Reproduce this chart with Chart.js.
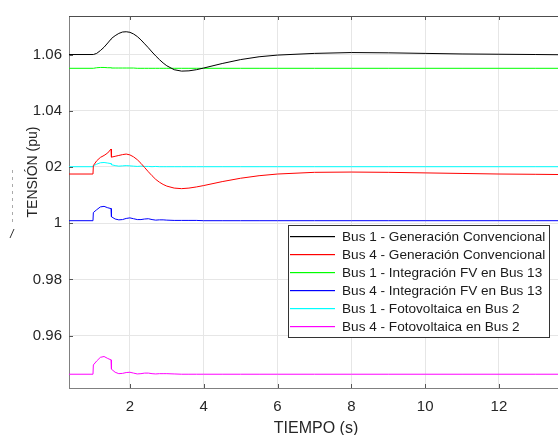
<!DOCTYPE html>
<html>
<head>
<meta charset="utf-8">
<script src="https://cdn.jsdelivr.net/npm/chart.js@4/dist/chart.umd.min.js"></script>
<style>
  html, body { margin: 0; padding: 0; background: #fff; }
  #wrap { width: 558px; height: 435px; }
</style>
</head>
<body>
<div id="wrap"><canvas id="tension" width="558" height="435"></canvas></div>
<script>
// tiempo de simulación (s)
const tiempo = [0.35, 1.0, 1.01, 1.1, 1.2, 1.3, 1.4, 1.49, 1.5, 1.6, 1.7, 1.8, 1.9, 2.0, 2.1, 2.2, 2.3, 2.4, 2.5, 2.6,
    2.7, 2.8, 2.9, 3.0, 3.2, 3.4, 3.6, 3.8, 4.0, 4.5, 5.0, 5.5, 6.0, 7.0, 8.0, 9.0, 10.0, 11.0, 12.0, 13.0, 13.8];

const bus1Conv = [1.0600, 1.0600, 1.0600, 1.0604, 1.0614, 1.0626, 1.0641, 1.0655, 1.0657, 1.0667, 1.0675, 1.0680, 1.0681,
    1.0679, 1.0673, 1.0664, 1.0652, 1.0638, 1.0624, 1.0609, 1.0595, 1.0582, 1.0570, 1.0560, 1.0546, 1.0541, 1.0542,
    1.0546, 1.0552, 1.0568, 1.0582, 1.0592, 1.0598, 1.0604, 1.0607, 1.0606, 1.0604, 1.0602, 1.0601, 1.0600, 1.0599];

const bus4Conv = [1.0175, 1.0175, 1.0205, 1.0222, 1.0234, 1.0241, 1.0250, 1.0264, 1.0235, 1.0238, 1.0241, 1.0244, 1.0246,
    1.0243, 1.0236, 1.0226, 1.0213, 1.0198, 1.0183, 1.0169, 1.0156, 1.0146, 1.0138, 1.0132, 1.0125, 1.0123, 1.0125,
    1.0129, 1.0134, 1.0148, 1.0160, 1.0169, 1.0175, 1.0181, 1.0182, 1.0181, 1.0179, 1.0177, 1.0175, 1.0174, 1.0173];

const bus1Fv13 = [1.0551, 1.0551, 1.0551, 1.0553, 1.0554, 1.0554, 1.0553, 1.0553, 1.0552, 1.0552, 1.0552, 1.0552, 1.0552,
    1.0552, 1.0552, 1.0551, 1.0551, 1.0551, 1.0551, 1.0551, 1.0551, 1.0551, 1.0551, 1.0551, 1.0551, 1.0551, 1.0551,
    1.0551, 1.0551, 1.0551, 1.0551, 1.0551, 1.0551, 1.0551, 1.0551, 1.0551, 1.0551, 1.0551, 1.0551, 1.0551, 1.0551];

const bus4Fv13 = [1.0009, 1.0009, 1.0038, 1.0048, 1.0058, 1.0060, 1.0055, 1.0052, 1.0023, 1.0015, 1.0012, 1.0013, 1.0017,
    1.0019, 1.0016, 1.0013, 1.0013, 1.0015, 1.0016, 1.0013, 1.0011, 1.0012, 1.0012, 1.0011, 1.0010, 1.0010, 1.0010,
    1.0010, 1.0009, 1.0009, 1.0009, 1.0009, 1.0009, 1.0009, 1.0009, 1.0009, 1.0009, 1.0009, 1.0009, 1.0009, 1.0009];

const bus1Fv2 = [1.0201, 1.0201, 1.0204, 1.0210, 1.0215, 1.0216, 1.0214, 1.0212, 1.0208, 1.0205, 1.0203, 1.0204, 1.0205,
    1.0204, 1.0203, 1.0202, 1.0203, 1.0202, 1.0202, 1.0201, 1.0202, 1.0201, 1.0201, 1.0201, 1.0201, 1.0201, 1.0201,
    1.0201, 1.0201, 1.0201, 1.0201, 1.0201, 1.0201, 1.0201, 1.0201, 1.0201, 1.0201, 1.0201, 1.0201, 1.0201, 1.0201];

const bus4Fv2 = [0.9463, 0.9463, 0.9496, 0.9510, 0.9523, 0.9526, 0.9519, 0.9514, 0.9481, 0.9470, 0.9465, 0.9466, 0.9469,
    0.9470, 0.9467, 0.9464, 0.9465, 0.9467, 0.9467, 0.9465, 0.9464, 0.9465, 0.9465, 0.9465, 0.9464, 0.9463, 0.9463,
    0.9463, 0.9463, 0.9463, 0.9463, 0.9463, 0.9463, 0.9463, 0.9463, 0.9463, 0.9463, 0.9463, 0.9463, 0.9463, 0.9463];

const etiquetas = [
    "Bus 1 - Generación Convencional",
    "Bus 4 - Generación Convencional",
    "Bus 1 - Integración FV en Bus 13",
    "Bus 4 - Integración FV en Bus 13",
    "Bus 1 - Fotovoltaica en Bus 2",
    "Bus 4 - Fotovoltaica en Bus 2"
];
const series = [bus1Conv, bus4Conv, bus1Fv13, bus4Fv13, bus1Fv2, bus4Fv2];
const colores = ["#000000", "#ff0000", "#00ff00", "#0000ff", "#00ffff", "#ff00ff"];

const ticksX = [2, 4, 6, 8, 10, 12];
const ticksY = [0.96, 0.98, 1.00, 1.02, 1.04, 1.06];

const FONT = "'Liberation Sans', Arial, sans-serif";

const datasets = series.map((vals, i) => ({
    label: etiquetas[i],
    data: vals.map((v, k) => ({ x: tiempo[k], y: v })),
    borderColor: colores[i],
    borderWidth: 1,
    pointRadius: 0,
    tension: 0,
    fill: false
}));

// bordes, marcas interiores, títulos y leyenda estilo matlab
const extras = {
    id: "extras",
    afterDatasetsDraw(chart) {
        const ctx = chart.ctx;
        const a = chart.chartArea;
        const sx = chart.scales.x;
        const sy = chart.scales.y;
        ctx.save();

        // borde superior
        ctx.strokeStyle = "#4d4d4d";
        ctx.lineWidth = 1;
        ctx.beginPath();
        ctx.moveTo(a.left, a.top + 0.5);
        ctx.lineTo(a.right, a.top + 0.5);
        ctx.stroke();

        // marcas hacia dentro
        ctx.strokeStyle = "#555";
        ctx.beginPath();
        ticksX.forEach(t => {
            const px = Math.round(sx.getPixelForValue(t)) + 0.5;
            ctx.moveTo(px, a.top); ctx.lineTo(px, a.top + 4);
            ctx.moveTo(px, a.bottom); ctx.lineTo(px, a.bottom - 4);
        });
        ticksY.forEach(t => {
            const py = Math.round(sy.getPixelForValue(t)) + 0.5;
            ctx.moveTo(a.left, py); ctx.lineTo(a.left + 4, py);
        });
        ctx.stroke();

        // leyenda
        const lx = 288, ly = 225, lw = 261, lh = 112;
        ctx.fillStyle = "#fff";
        ctx.fillRect(lx, ly, lw, lh);
        ctx.strokeStyle = "#333";
        ctx.strokeRect(lx + 0.5, ly + 0.5, lw, lh);
        ctx.font = "13.6px " + FONT;
        ctx.textBaseline = "middle";
        ctx.textAlign = "left";
        etiquetas.forEach((txt, i) => {
            const y = Math.round(ly + 11 + i * 18);
            ctx.fillStyle = colores[i];
            ctx.fillRect(lx + 2, y, 45, 1.2);
            ctx.fillStyle = "#1a1a1a";
            ctx.fillText(txt, lx + 54, y + 1);
        });

        // título eje x
        ctx.fillStyle = "#262626";
        ctx.font = "16px " + FONT;
        ctx.textAlign = "center";
        ctx.textBaseline = "alphabetic";
        ctx.fillText("TIEMPO (s)", 316, 433);

        // título eje y
        ctx.translate(37, 172);
        ctx.rotate(-Math.PI / 2);
        ctx.font = "14px " + FONT;
        ctx.textAlign = "center";
        ctx.textBaseline = "alphabetic";
        ctx.fillText("TENSIÓN (pu)", 0, 0);
        ctx.setTransform(1, 0, 0, 1, 0, 0);

        // trazo residual junto al título
        ctx.strokeStyle = "#aaa";
        ctx.setLineDash([3, 4]);
        ctx.beginPath();
        ctx.moveTo(12.5, 170);
        ctx.lineTo(12.5, 226);
        ctx.stroke();
        ctx.setLineDash([]);
        ctx.strokeStyle = "#333";
        ctx.beginPath();
        ctx.moveTo(10, 238);
        ctx.lineTo(14, 229);
        ctx.stroke();

        ctx.restore();
    }
};

new Chart(document.getElementById("tension"), {
    type: "line",
    data: { datasets },
    options: {
        responsive: false,
        animation: false,
        events: [],
        layout: { padding: { top: 11, right: 0, left: 0, bottom: 0 } },
        plugins: {
            legend: { display: false },
            tooltip: { enabled: false }
        },
        scales: {
            x: {
                type: "linear",
                min: 0.35,
                max: 13.6,
                afterFit(scale) { scale.height = 47; },
                afterBuildTicks(scale) { scale.ticks = ticksX.map(v => ({ value: v })); },
                grid: { color: "#e6e6e6", drawTicks: false },
                border: { color: "#808080" },
                ticks: {
                    padding: 10,
                    color: "#262626",
                    font: { family: FONT, size: 15 },
                    callback: v => String(v)
                }
            },
            y: {
                min: 0.9414,
                max: 1.0737,
                afterFit(scale) { scale.width = 69; },
                afterBuildTicks(scale) { scale.ticks = ticksY.map(v => ({ value: v })); },
                grid: { color: "#e6e6e6", drawTicks: false },
                border: { color: "#808080" },
                ticks: {
                    padding: 7,
                    color: "#262626",
                    font: { family: FONT, size: 15 },
                    callback: v => {
                        const r = Math.round(v * 100) / 100;
                        if (r === 1.02) return "02";
                        if (r === 1) return "1";
                        return r.toFixed(2);
                    }
                }
            }
        }
    },
    plugins: [extras]
});
</script>
</body>
</html>
